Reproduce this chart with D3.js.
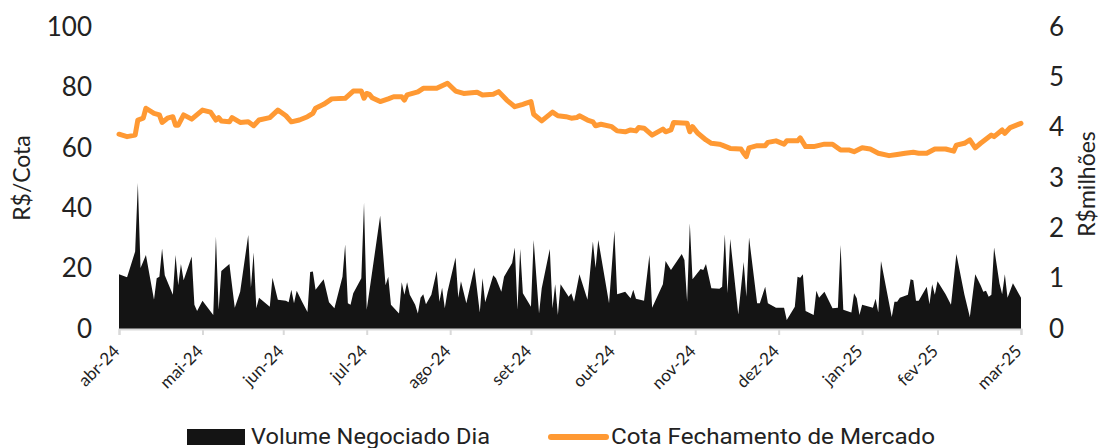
<!DOCTYPE html>
<html>
<head>
<meta charset="utf-8">
<script src="https://cdn.jsdelivr.net/npm/d3@7"></script>
<style>
	body { margin: 0; background: #fff; }
	#chart { width: 1099px; height: 448px; }
</style>
</head>
<body>
<div id="chart"></div>
<script>
// eixo x: fim de cada mes
var tickDias = ["2024-04-30", "2024-05-31", "2024-06-30", "2024-07-31", "2024-08-31", "2024-09-30",
	"2024-10-31", "2024-11-30", "2024-12-31", "2025-01-31", "2025-02-28", "2025-03-31"];
var tickLabels = ["abr-24", "mai-24", "jun-24", "jul-24", "ago-24", "set-24",
	"out-24", "nov-24", "dez-24", "jan-25", "fev-25", "mar-25"];
var ticksCota = [0, 20, 40, 60, 80, 100];
var ticksVolume = [0, 1, 2, 3, 4, 5, 6];

// Volume Negociado Dia (R$ milhoes)
var volumeDias = ["2024-04-30", "2024-05-03", "2024-05-06", "2024-05-07", "2024-05-08", "2024-05-10", "2024-05-13",
	"2024-05-14", "2024-05-15", "2024-05-16", "2024-05-17", "2024-05-20", "2024-05-21", "2024-05-22", "2024-05-23",
	"2024-05-24", "2024-05-27", "2024-05-28", "2024-05-29", "2024-05-31", "2024-06-04", "2024-06-05", "2024-06-06",
	"2024-06-07", "2024-06-10", "2024-06-12", "2024-06-14", "2024-06-17", "2024-06-18", "2024-06-19", "2024-06-20",
	"2024-06-21", "2024-06-25", "2024-06-26", "2024-06-28", "2024-07-01", "2024-07-02", "2024-07-03", "2024-07-04",
	"2024-07-05", "2024-07-07", "2024-07-09", "2024-07-10", "2024-07-11", "2024-07-12", "2024-07-15", "2024-07-17",
	"2024-07-19", "2024-07-22", "2024-07-23", "2024-07-24", "2024-07-25", "2024-07-26", "2024-07-29", "2024-07-30",
	"2024-07-31", "2024-08-05", "2024-08-07", "2024-08-08", "2024-08-09", "2024-08-12", "2024-08-13", "2024-08-14",
	"2024-08-15", "2024-08-16", "2024-08-18", "2024-08-19", "2024-08-20", "2024-08-21", "2024-08-22", "2024-08-24",
	"2024-08-26", "2024-08-27", "2024-08-28", "2024-08-29", "2024-08-30", "2024-09-02", "2024-09-03", "2024-09-04",
	"2024-09-06", "2024-09-09", "2024-09-11", "2024-09-12", "2024-09-13", "2024-09-16", "2024-09-17", "2024-09-19",
	"2024-09-20", "2024-09-23", "2024-09-24", "2024-09-25", "2024-09-26", "2024-09-27", "2024-09-30", "2024-10-01",
	"2024-10-03", "2024-10-04", "2024-10-07", "2024-10-08", "2024-10-09", "2024-10-10", "2024-10-11", "2024-10-14",
	"2024-10-15", "2024-10-16", "2024-10-18", "2024-10-21", "2024-10-23", "2024-10-24", "2024-10-25", "2024-10-29",
	"2024-10-31", "2024-11-01", "2024-11-04", "2024-11-06", "2024-11-07", "2024-11-08", "2024-11-11", "2024-11-13",
	"2024-11-14", "2024-11-18", "2024-11-19", "2024-11-21", "2024-11-25", "2024-11-26", "2024-11-27", "2024-11-28",
	"2024-11-29", "2024-12-02", "2024-12-03", "2024-12-04", "2024-12-06", "2024-12-09", "2024-12-10", "2024-12-11",
	"2024-12-12", "2024-12-13", "2024-12-16", "2024-12-18", "2024-12-19", "2024-12-20", "2024-12-23", "2024-12-24",
	"2024-12-26", "2024-12-27", "2024-12-30", "2025-01-02", "2025-01-03", "2025-01-06", "2025-01-07", "2025-01-08",
	"2025-01-09", "2025-01-10", "2025-01-13", "2025-01-14", "2025-01-15", "2025-01-17", "2025-01-20", "2025-01-22",
	"2025-01-23", "2025-01-24", "2025-01-27", "2025-01-28", "2025-01-29", "2025-01-30", "2025-01-31", "2025-02-04",
	"2025-02-05", "2025-02-06", "2025-02-07", "2025-02-11", "2025-02-12", "2025-02-13", "2025-02-14", "2025-02-17",
	"2025-02-18", "2025-02-19", "2025-02-20", "2025-02-21", "2025-02-24", "2025-02-25", "2025-02-26", "2025-02-27",
	"2025-02-28", "2025-03-03", "2025-03-05", "2025-03-07", "2025-03-10", "2025-03-12", "2025-03-14", "2025-03-16",
	"2025-03-17", "2025-03-18", "2025-03-19", "2025-03-20", "2025-03-21", "2025-03-23", "2025-03-24", "2025-03-25",
	"2025-03-26", "2025-03-28", "2025-03-31"];
var volumeValores = [1.09, 1.03, 1.54, 2.90, 1.21, 1.47, 0.58,
	1.01, 1.04, 1.60, 1.07, 0.68, 1.47, 0.87, 1.29,
	0.97, 1.44, 0.48, 0.36, 0.56, 0.28, 1.84, 0.38,
	1.15, 1.29, 0.42, 0.74, 1.87, 0.82, 1.52, 0.41,
	0.62, 0.44, 1.02, 0.58, 0.56, 0.53, 0.78, 0.51,
	0.76, 0.54, 0.34, 1.13, 1.14, 0.78, 0.99, 0.53,
	0.41, 1.04, 1.68, 0.51, 0.48, 0.71, 1.01, 2.51,
	0.38, 2.25, 0.87, 1.04, 0.48, 0.31, 0.93, 0.68,
	0.93, 0.68, 0.48, 0.31, 0.62, 0.69, 0.49, 0.68,
	1.15, 0.54, 0.82, 0.41, 0.74, 1.42, 0.62, 0.95,
	0.51, 1.22, 0.33, 1.01, 0.53, 1.07, 1.01, 0.74,
	1.04, 1.31, 1.62, 0.38, 1.59, 0.71, 0.44, 1.77,
	0.31, 0.81, 1.59, 0.41, 0.89, 0.28, 0.89, 0.64,
	0.71, 0.54, 1.09, 0.58, 1.74, 1.21, 1.77, 0.51,
	1.95, 0.69, 0.74, 0.61, 0.78, 0.60, 0.56, 1.47,
	0.42, 0.89, 1.35, 1.17, 1.49, 1.37, 0.54, 2.10,
	0.99, 1.19, 1.17, 1.29, 0.81, 0.80, 0.84, 1.88,
	0.71, 1.79, 0.29, 1.33, 0.64, 1.82, 0.51, 0.51,
	0.84, 0.51, 0.42, 0.42, 0.18, 0.44, 1.04, 1.02,
	1.09, 0.36, 0.28, 0.76, 0.62, 0.74, 0.41, 0.42,
	1.67, 0.38, 0.33, 0.71, 0.61, 0.28, 0.48, 0.42,
	0.60, 0.33, 1.35, 0.24, 0.54, 0.54, 0.62, 0.68,
	0.99, 0.97, 0.56, 0.56, 0.84, 0.49, 0.89, 0.68,
	0.95, 0.69, 0.48, 1.49, 0.68, 0.24, 1.09, 0.87,
	0.74, 0.76, 0.64, 0.68, 1.62, 0.91, 0.69, 1.09,
	0.62, 0.91, 0.62];

// Cota Fechamento de Mercado (R$/cota)
var cotaDias = ["2024-04-30", "2024-05-03", "2024-05-06", "2024-05-07", "2024-05-09", "2024-05-10", "2024-05-13",
	"2024-05-15", "2024-05-16", "2024-05-18", "2024-05-20", "2024-05-21", "2024-05-22", "2024-05-24", "2024-05-27",
	"2024-05-31", "2024-06-03", "2024-06-05", "2024-06-06", "2024-06-07", "2024-06-10", "2024-06-11", "2024-06-14",
	"2024-06-17", "2024-06-19", "2024-06-21", "2024-06-25", "2024-06-28", "2024-07-01", "2024-07-03", "2024-07-06",
	"2024-07-09", "2024-07-11", "2024-07-12", "2024-07-15", "2024-07-18", "2024-07-23", "2024-07-26", "2024-07-29",
	"2024-07-30", "2024-07-31", "2024-08-01", "2024-08-02", "2024-08-05", "2024-08-08", "2024-08-10", "2024-08-13",
	"2024-08-14", "2024-08-15", "2024-08-19", "2024-08-21", "2024-08-26", "2024-08-30", "2024-09-02", "2024-09-05",
	"2024-09-10", "2024-09-12", "2024-09-16", "2024-09-18", "2024-09-21", "2024-09-24", "2024-09-27", "2024-09-28",
	"2024-09-30", "2024-10-01", "2024-10-04", "2024-10-08", "2024-10-10", "2024-10-13", "2024-10-15", "2024-10-17",
	"2024-10-18", "2024-10-21", "2024-10-23", "2024-10-24", "2024-10-26", "2024-10-30", "2024-11-01", "2024-11-04",
	"2024-11-06", "2024-11-08", "2024-11-09", "2024-11-11", "2024-11-14", "2024-11-18", "2024-11-19", "2024-11-21",
	"2024-11-22", "2024-11-27", "2024-11-28", "2024-11-29", "2024-12-01", "2024-12-04", "2024-12-06", "2024-12-09",
	"2024-12-10", "2024-12-13", "2024-12-17", "2024-12-18", "2024-12-19", "2024-12-20", "2024-12-23", "2024-12-26",
	"2024-12-27", "2024-12-30", "2025-01-02", "2025-01-03", "2025-01-07", "2025-01-08", "2025-01-10", "2025-01-13",
	"2025-01-17", "2025-01-20", "2025-01-23", "2025-01-26", "2025-01-28", "2025-01-31", "2025-02-03", "2025-02-06",
	"2025-02-10", "2025-02-13", "2025-02-16", "2025-02-19", "2025-02-21", "2025-02-24", "2025-02-27", "2025-03-03",
	"2025-03-06", "2025-03-07", "2025-03-10", "2025-03-12", "2025-03-14", "2025-03-16", "2025-03-20", "2025-03-21",
	"2025-03-24", "2025-03-25", "2025-03-27", "2025-03-31"];
var cotaValores = [64.5, 63.7, 64.2, 69.2, 69.8, 73.1, 71.4,
	70.9, 68.4, 69.8, 70.3, 67.5, 67.5, 70.9, 69.5,
	72.5, 71.8, 69.2, 70.0, 68.9, 68.6, 70.0, 68.4,
	68.6, 67.3, 69.2, 70.0, 72.5, 70.6, 68.6, 69.2,
	70.3, 71.4, 73.1, 74.4, 76.2, 76.4, 78.8, 78.8,
	76.4, 78.0, 77.7, 76.6, 75.3, 76.2, 76.9, 76.9,
	75.8, 77.5, 78.5, 79.7, 79.7, 81.4, 78.8, 78.0,
	78.4, 77.5, 77.7, 78.6, 75.8, 73.6, 74.4, 74.7,
	75.3, 71.1, 68.9, 71.8, 70.6, 70.3, 69.8, 70.0,
	70.6, 69.2, 68.6, 67.3, 67.8, 67.0, 65.6, 65.3,
	65.9, 65.6, 66.7, 66.5, 64.2, 66.2, 65.3, 65.9,
	68.4, 68.1, 65.3, 67.0, 64.8, 62.6, 61.5, 61.2,
	60.9, 59.8, 59.6, 58.2, 57.1, 60.0, 60.7, 60.7,
	61.8, 62.3, 61.2, 62.3, 62.3, 63.3, 60.4, 60.4,
	61.2, 61.2, 59.3, 59.3, 58.7, 60.0, 59.6, 58.2,
	57.4, 57.8, 58.2, 58.5, 58.2, 58.2, 59.6, 59.6,
	58.9, 60.9, 61.5, 62.6, 60.0, 61.5, 64.2, 63.7,
	65.9, 64.8, 66.7, 68.1];

var parseDia = d3.timeParse("%Y-%m-%d");
var fonte = "Lato, 'Open Sans', sans-serif";

function makeChart() {
	var margin = {left: 119, right: 78, top: 27, bottom: 119};
	var width = 1099 - margin.left - margin.right;
	var height = 448 - margin.top - margin.bottom;

	var volume = volumeDias.map(function(d, i) {
		return {dia: parseDia(d), valor: volumeValores[i]};
	});
	var cota = cotaDias.map(function(d, i) {
		return {dia: parseDia(d), valor: cotaValores[i]};
	});
	var ticks = tickDias.map(parseDia);

	var x = d3.scaleTime()
	    .domain([ticks[0], ticks[ticks.length - 1]])
	    .range([0, width]);
	var yCota = d3.scaleLinear()
	    .domain([0, 100])
	    .range([height, 0]);
	var yVolume = d3.scaleLinear()
	    .domain([0, 6])
	    .range([height, 0]);

	var svg = d3.select("#chart")
	  .append("svg")
	    .attr("width", 1099)
	    .attr("height", 448)
	    .style("font-family", fonte);

	var g = svg.append("g")
	    .attr("transform", "translate(" + margin.left + "," + margin.top + ")");

	//volume (area)
	var area = d3.area()
	    .x(function(d) { return x(d.dia); })
	    .y0(yVolume(0))
	    .y1(function(d) { return yVolume(d.valor); });
	g.append("path")
	    .datum(volume)
	    .attr("d", area)
	    .style("fill", "#141414");

	//cota (linha)
	var line = d3.line()
	    .x(function(d) { return x(d.dia); })
	    .y(function(d) { return yCota(d.valor); });
	g.append("path")
	    .datum(cota)
	    .attr("d", line)
	    .style("fill", "none")
	    .style("stroke", "#ff9933")
	    .style("stroke-width", "5px")
	    .style("stroke-linejoin", "round")
	    .style("stroke-linecap", "round");

	//eixo x
	var xAxis = d3.axisBottom(x)
	    .tickValues(ticks)
	    .tickSize(6)
	    .tickFormat(function(d, i) { return tickLabels[i]; });
	var gx = g.append("g")
	    .attr("transform", "translate(0," + height + ")")
	    .call(xAxis);
	gx.select(".domain")
	    .style("stroke", "#d9d9d9")
	    .style("stroke-width", "2px");
	gx.selectAll(".tick line")
	    .style("stroke", "#d9d9d9")
	    .style("stroke-width", "2px");
	gx.selectAll(".tick text")
	    .attr("x", 0)
	    .attr("y", 0)
	    .attr("dy", "0.35em")
	    .attr("transform", "translate(-3,19) rotate(-45)")
	    .style("text-anchor", "end")
	    .style("font-family", fonte)
	    .style("font-size", "17px")
	    .style("fill", "#222");

	//eixo esquerdo
	var yLeft = d3.axisLeft(yCota)
	    .tickValues(ticksCota)
	    .tickSize(0)
	    .tickPadding(27);
	var gl = g.append("g").call(yLeft);
	gl.select(".domain").remove();
	gl.selectAll(".tick text")
	    .style("font-family", fonte)
	    .style("font-size", "26px")
	    .style("fill", "#222");

	//eixo direito
	var yRight = d3.axisRight(yVolume)
	    .tickValues(ticksVolume)
	    .tickFormat(d3.format("d"))
	    .tickSize(0)
	    .tickPadding(28);
	var gr = g.append("g")
	    .attr("transform", "translate(" + width + ",0)")
	    .call(yRight);
	gr.select(".domain").remove();
	gr.selectAll(".tick text")
	    .style("font-family", fonte)
	    .style("font-size", "26px")
	    .style("fill", "#222");

	//titulos
	svg.append("text")
	    .attr("transform", "translate(30,178) rotate(-90)")
	    .style("text-anchor", "middle")
	    .style("font-size", "23px")
	    .style("fill", "#222")
	    .text("R$/Cota");
	svg.append("text")
	    .attr("transform", "translate(1095,184) rotate(-90)")
	    .style("text-anchor", "middle")
	    .style("font-size", "23px")
	    .style("fill", "#222")
	    .text("R$milhões");

	//legenda
	var leg = svg.append("g");
	leg.append("rect")
	    .attr("x", 187)
	    .attr("y", 429)
	    .attr("width", 58)
	    .attr("height", 16)
	    .style("fill", "#141414");
	leg.append("text")
	    .attr("x", 251)
	    .attr("y", 444)
	    .attr("textLength", 239)
	    .attr("lengthAdjust", "spacingAndGlyphs")
	    .style("font-family", "'Liberation Sans Narrow', Roboto, sans-serif")
	    .style("font-size", "22px")
	    .style("fill", "#222")
	    .text("Volume Negociado Dia");
	leg.append("line")
	    .attr("x1", 551)
	    .attr("x2", 606)
	    .attr("y1", 437)
	    .attr("y2", 437)
	    .style("stroke", "#ff9933")
	    .style("stroke-width", "6px")
	    .style("stroke-linecap", "round");
	leg.append("text")
	    .attr("x", 611)
	    .attr("y", 444)
	    .attr("textLength", 324)
	    .attr("lengthAdjust", "spacingAndGlyphs")
	    .style("font-family", "'Liberation Sans Narrow', Roboto, sans-serif")
	    .style("font-size", "22px")
	    .style("fill", "#222")
	    .text("Cota Fechamento de Mercado");
}

makeChart();
</script>
</body>
</html>
